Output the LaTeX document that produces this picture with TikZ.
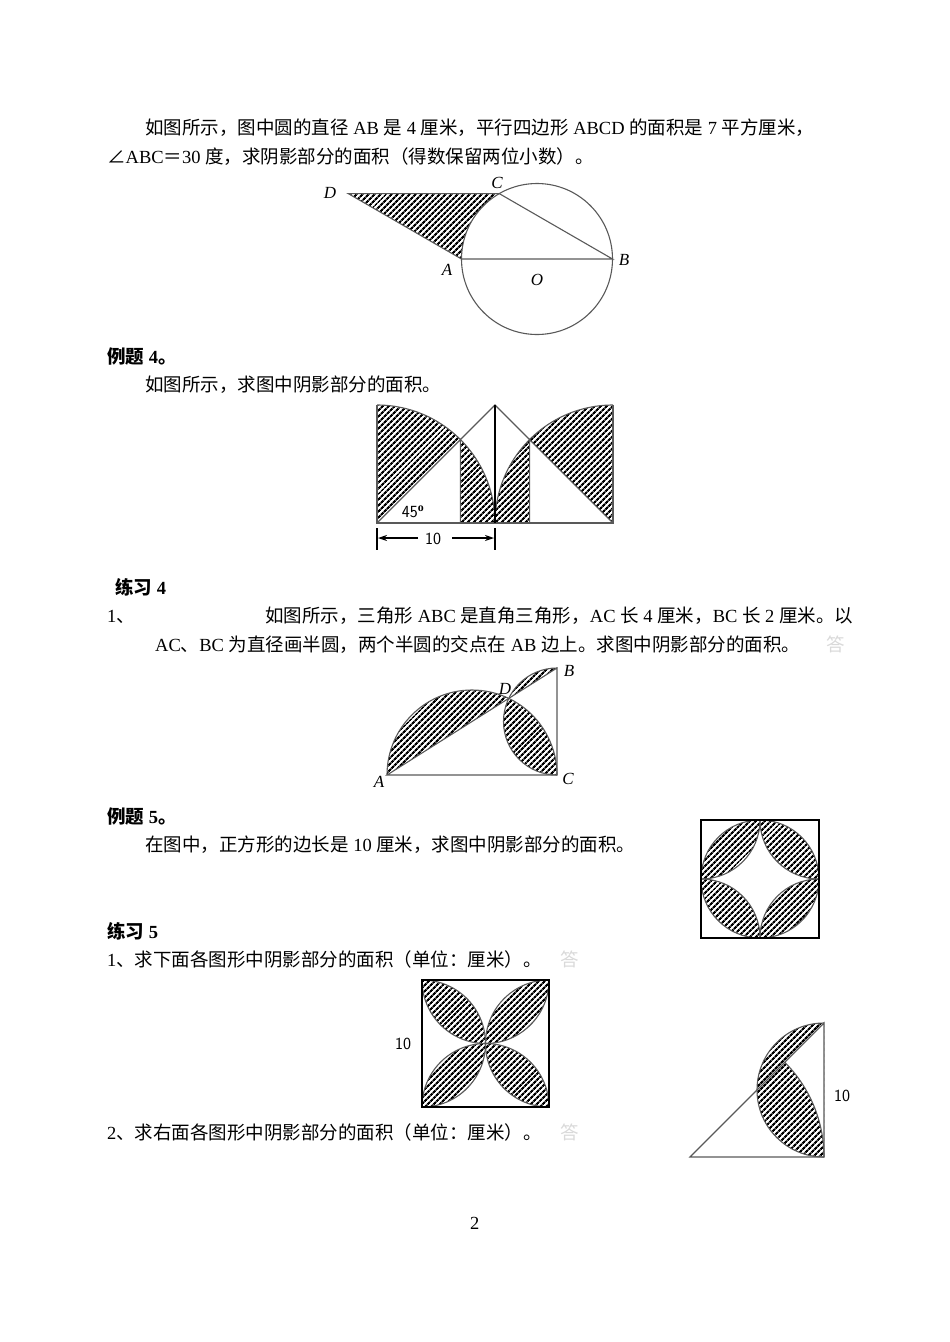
\documentclass[tikz,border=0pt]{standalone}
\usepackage{fontspec}
\setmainfont{Liberation Serif}
\newfontfamily\cjk{Noto Sans CJK SC}
\usetikzlibrary{patterns.meta,arrows.meta}
\newcommand\C[1]{{\cjk #1}}
\begin{document}
\begin{tikzpicture}[x=1pt,y=-1pt,
  hatch/.style={pattern={Lines[angle=45,distance=4pt,line width=2.2pt]},pattern color=black},
  ln/.style={draw=black!65,line width=1.1pt},
  bk/.style={draw=black,line width=1.3pt},
  lab/.style={font=\itshape\fontsize{17}{17}\selectfont},
  txt/.style={anchor=base west,inner sep=0pt,font=\fontsize{18.5}{20}\selectfont},
  ans/.style={txt,text=black!15}]
\useasboundingbox (0,0) rectangle (950,1342);
% ---------- texts
\node[txt] (t1) at (145,134) {\C{如图所示，图中圆的直径} AB \C{是} 4 \C{厘米，平行四边形} ABCD \C{的面积是} 7 \C{平方厘米，}};
\node[txt] (t2) at (107,163) {\C{∠}ABC\C{＝}30 \C{度，求阴影部分的面积（得数保留两位小数）。}};
\node[txt,font=\bfseries\fontsize{18.5}{20}\selectfont] (t3) at (107,363) {\C{例题} 4\C{。}};
\node[txt] (t4) at (145,391) {\C{如图所示，求图中阴影部分的面积。}};
\node[txt,font=\bfseries\fontsize{18.5}{20}\selectfont] (t5) at (115,594) {\C{练习} 4};
\node[txt] (t6) at (107,622) {1\C{、}};
\node[txt] (t7) at (265,622) {\C{如图所示，三角形} ABC \C{是直角三角形，}AC \C{长} 4 \C{厘米，}BC \C{长} 2 \C{厘米。以}};
\node[txt] (t8) at (155,651) {AC\C{、}BC \C{为直径画半圆，两个半圆的交点在} AB \C{边上。求图中阴影部分的面积。}};
\node[ans] (a1) at (826,651) {\C{答}};
\node[txt,font=\bfseries\fontsize{18.5}{20}\selectfont] (t9) at (107,823) {\C{例题} 5\C{。}};
\node[txt] (t10) at (145,851) {\C{在图中，正方形的边长是} 10 \C{厘米，求图中阴影部分的面积。}};
\node[txt,font=\bfseries\fontsize{18.5}{20}\selectfont] (t11) at (107,938) {\C{练习} 5};
\node[txt] (t12) at (107,966) {1\C{、求下面各图形中阴影部分的面积（单位：厘米）。}};
\node[ans] (a2) at (560,966) {\C{答}};
\node[txt] (t13) at (107,1139) {2\C{、求右面各图形中阴影部分的面积（单位：厘米）。}};
\node[ans] (a3) at (560,1139) {\C{答}};
\node[txt] (pg) at (470,1229) {2};
% ---------- fig 1
\fill[hatch] (348.25,193.6) -- (499.25,193.6) arc[start angle=240,end angle=180,radius=75.5] -- cycle;
\draw[ln] (348.25,193.6) -- (499.25,193.6) -- (612.5,259) -- (461.5,259) -- cycle;
\draw[ln] (537,259) circle[radius=75.5];
\node[lab] (lD) at (330,193) {D};
\node[lab] (lC) at (497,183) {C};
\node[lab] (lA) at (447,270) {A};
\node[lab] (lB) at (624,260) {B};
\node[lab] (lO) at (537,280) {O};
% ---------- fig 2
\fill[hatch] (377,405) arc[start angle=-90,end angle=-45,radius=118] -- (377,523) -- cycle;
\fill[hatch] (460.4,439.6) arc[start angle=-45,end angle=0,radius=118] -- (460.4,523) -- cycle;
\fill[hatch] (613,405) arc[start angle=-90,end angle=-135,radius=118] -- (613,523) -- cycle;
\fill[hatch] (529.6,439.6) arc[start angle=-135,end angle=-180,radius=118] -- (529.6,523) -- cycle;
\draw[ln] (377,405) arc[start angle=-90,end angle=0,radius=118];
\draw[ln] (613,405) arc[start angle=-90,end angle=-180,radius=118];
\draw[ln] (377,405) -- (377,523) -- (613,523) -- (613,405);
\draw[ln] (377,523) -- (460.4,439.6) -- (460.4,523);
\draw[ln] (613,523) -- (529.6,439.6) -- (529.6,523);
\draw[ln] (460.4,439.6) -- (495,405) -- (529.6,439.6);
\draw[bk] (495,405) -- (495,523);
\draw[bk] (377,528) -- (377,550) (495,528) -- (495,550);
\draw[bk,-{Stealth[length=9pt,width=6pt]}] (418,538) -- (378,538);
\draw[bk,-{Stealth[length=9pt,width=6pt]}] (452,538) -- (494,538);
\node[font=\sffamily\fontsize{17}{17}\selectfont] (d10) at (433,539) {10};
\node[font=\sffamily\fontsize{17}{17}\selectfont] (ang) at (413,512) {45$^{\bf o}$};
% ---------- fig 3
\fill[hatch] (387,775) arc[start angle=180,end angle=295.7,radius=85] -- cycle;
\fill[hatch] (508.8,698.4) arc[start angle=205.6,end angle=270,radius=53.5] -- cycle;
\fill[hatch] (557,775) arc[start angle=90,end angle=205.6,radius=53.5] arc[start angle=-64.3,end angle=0,radius=85] -- cycle;
\draw[ln] (387,775) arc[start angle=180,end angle=295.7,radius=85] arc[start angle=-64.3,end angle=0,radius=85];
\draw[ln] (557,668) arc[start angle=270,end angle=90,radius=53.5];
\draw[ln] (387,775) -- (557,775) -- (557,668) -- cycle;
\node[lab] (l3A) at (379,782) {A};
\node[lab] (l3C) at (568,779) {C};
\node[lab] (l3B) at (569,671) {B};
\node[lab] (l3D) at (505,689) {D};
% ---------- fig 4
\foreach \cx/\cy/\a in {701/820/0,819/820/90,819/938/180,701/938/270}{
  \fill[hatch] (760,879) ++(\a+180:59) arc[start angle=\a+180,end angle=\a+270,radius=59]
     -- ({\cx+59*cos(\a)},{\cy+59*sin(\a)}) arc[start angle=\a,end angle=\a+90,radius=59] -- cycle;
  \draw[ln] ({\cx+59*cos(\a)},{\cy+59*sin(\a)}) arc[start angle=\a,end angle=\a+90,radius=59];
}
\draw[ln] (760,879) circle[radius=59];
\draw[bk] (701,820) rectangle (819,938);
% ---------- fig 5
\foreach \ax/\ay/\bx/\by in {485.5/980/422/1043.5, 485.5/980/549/1043.5, 422/1043.5/485.5/1107, 549/1043.5/485.5/1107}{
  \begin{scope}
    \clip (\ax,\ay) circle[radius=63.5];
    \fill[hatch] (\bx,\by) circle[radius=63.5];
    \draw[ln] (\bx,\by) circle[radius=63.5];
  \end{scope}
  \begin{scope}
    \clip (\bx,\by) circle[radius=63.5];
    \draw[ln] (\ax,\ay) circle[radius=63.5];
  \end{scope}
}
\draw[bk] (422,980) rectangle (549,1107);
\node[font=\sffamily\fontsize{17}{17}\selectfont] (l10a) at (403,1044) {10};
% ---------- fig 6
\fill[hatch] (824,1023) arc[start angle=-90,end angle=-270,radius=67] -- cycle;
\fill[white] (784.7,1062.3) -- (824,1023) -- (824,1157) arc[start angle=0,end angle=-45,radius=134] -- cycle;
\draw[ln] (824,1023) arc[start angle=-90,end angle=-270,radius=67];
\draw[ln] (824,1157) arc[start angle=0,end angle=-45,radius=134];
\draw[ln] (690,1157) -- (824,1157) -- (824,1023) -- cycle;
\node[font=\sffamily\fontsize{17}{17}\selectfont] (l10b) at (842,1096) {10};
\end{tikzpicture}
\end{document}
